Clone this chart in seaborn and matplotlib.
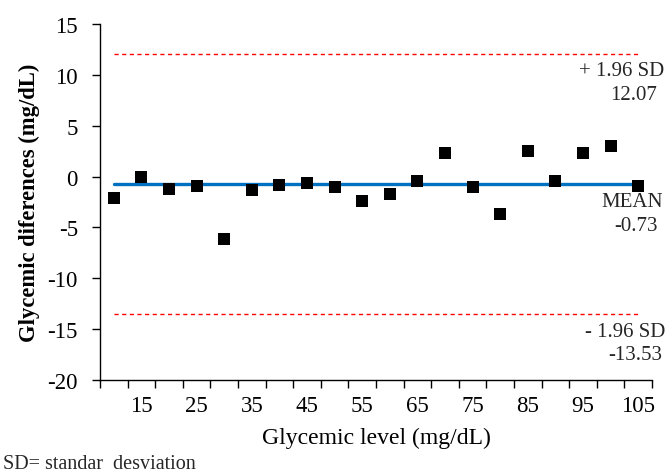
import matplotlib
matplotlib.use("Agg")
import matplotlib.pyplot as plt
import seaborn as sns
import pandas as pd
import numpy as np
from matplotlib.ticker import FixedLocator, NullFormatter

glycemic_level = [10, 15, 20, 25, 30, 35, 40, 45, 50, 55, 60, 65, 70, 75, 80, 85, 90, 95, 100, 105]
differences = [-2.14, -0.07, -1.25, -0.95, -6.09, -1.35, -0.82, -0.66, -0.99, -2.43,
               -1.74, -0.46, 2.30, -0.99, -3.72, 2.47, -0.46, 2.30, 2.96, -0.95]
mean_diff = -0.73
upper_loa = 12.07
lower_loa = -13.53
x_tick_labels = [15, 25, 35, 45, 55, 65, 75, 85, 95, 105]
y_ticks = [-20, -15, -10, -5, 0, 5, 10, 15]

sns.set_theme(style="ticks")
plt.rcParams['font.family'] = ['Liberation Serif', 'DejaVu Serif']

df = pd.DataFrame({"level": glycemic_level, "diff": differences})

fig = plt.figure(figsize=(6.68, 4.77), dpi=100)
ax = fig.add_axes([100/668, 1 - 381/477, 552/668, 356/477])

xs = [glycemic_level[0], glycemic_level[-1]]
sns.lineplot(x=xs, y=[mean_diff, mean_diff], ax=ax, color="#0070C0", linewidth=2.4, zorder=2)
sns.lineplot(x=xs, y=[upper_loa, upper_loa], ax=ax, color="#FF0000", linewidth=1.0,
             linestyle=(0, (3, 2.5)), zorder=2)
sns.lineplot(x=xs, y=[lower_loa, lower_loa], ax=ax, color="#FF0000", linewidth=1.0,
             linestyle=(0, (3, 2.5)), zorder=2)
sns.scatterplot(data=df, x="level", y="diff", ax=ax, marker="s", s=78, color="black",
                edgecolor="black", linewidth=0, zorder=3)

ax.set_xlim(7.5, 107.5)
ax.set_ylim(-20, 15)
ax.set_yticks(y_ticks)
ax.set_yticklabels([str(v) for v in y_ticks])
ax.set_xticks(x_tick_labels)
ax.set_xticklabels([str(v) for v in x_tick_labels])
ax.xaxis.set_minor_locator(FixedLocator([7.5 + 5 * k for k in range(21)]))
ax.xaxis.set_minor_formatter(NullFormatter())
ax.tick_params(axis="x", which="major", length=0, pad=11, labelsize=16.5)
ax.tick_params(axis="x", which="minor", length=6, width=1, direction="out", color="black")
ax.tick_params(axis="y", which="major", length=6, width=1, direction="out", pad=10,
               labelsize=16.5, color="black")

for s in ["top", "right"]:
    ax.spines[s].set_visible(False)
for s in ["left", "bottom"]:
    ax.spines[s].set_color("black")
    ax.spines[s].set_linewidth(1)

ax.set_xlabel("Glycemic level (mg/dL)", fontsize=17)
ax.set_ylabel("Glycemic diferences (mg/dL)", fontsize=16.3, fontweight="bold")
ax.xaxis.set_label_coords(0.5, -(428 - 381) / 356)
ax.yaxis.set_label_coords(-(100 - 40) / 552, 0.5)

def ftext(px, py, s, size=15):
    fig.text(px / 668, 1 - py / 477, s, ha="right", va="center", fontsize=size)

ftext(664, 72, "+ 1.96 SD")
ftext(657, 95, "12.07")
ftext(663, 203, "MEAN")
ftext(658, 227, "-0.73")
ftext(665, 333, "- 1.96 SD")
ftext(662, 356, "-13.53")

fig.text(3 / 668, 1 - 465 / 477, "SD= standar  desviation", ha="left", va="center", fontsize=14.5)

for lab in ax.get_xticklabels() + ax.get_yticklabels():
    lab.set_color("black")
ax.xaxis.label.set_color("black")
ax.yaxis.label.set_color("black")

fig.savefig("out.png", dpi=100)
